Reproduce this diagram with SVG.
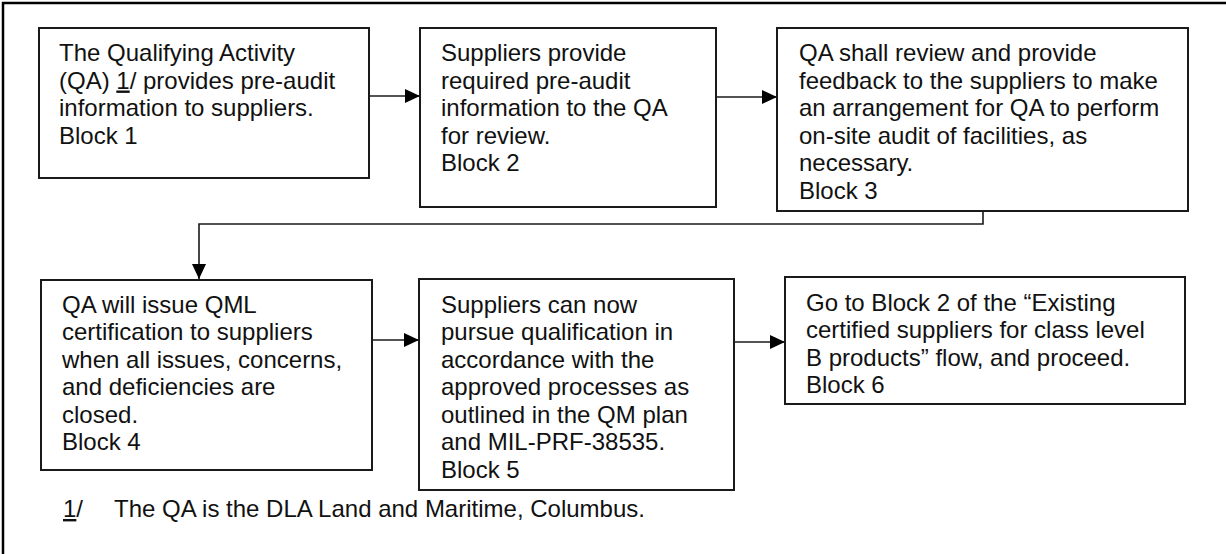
<svg xmlns="http://www.w3.org/2000/svg" width="1226" height="554" viewBox="0 0 1226 554">
  <style>
    .frame { fill: none; stroke: #000; stroke-width: 2.5; }
    .box { fill: #fff; stroke: #1a1a1a; stroke-width: 2; }
    .lbl { font-family: "Liberation Sans", Arial, sans-serif; font-size: 24px; fill: #111; }
    .conn { fill: none; stroke: #1a1a1a; stroke-width: 1.6; }
    .ul { text-decoration: underline; }
  </style>
  <defs>
    <marker id="arrow" markerUnits="userSpaceOnUse" markerWidth="16" markerHeight="16" viewBox="0 0 16 16" refX="15" refY="8" orient="auto">
      <path d="M0,1 L15,8 L0,15 Z" fill="#000"/>
    </marker>
  </defs>

  <!-- page frame (only top and left edges fall inside the sheet) -->
  <rect class="frame" x="3" y="3" width="1240" height="570"/>

  <!-- connectors -->
  <g id="connectors">
    <line class="conn" x1="369" y1="96" x2="420" y2="96" marker-end="url(#arrow)"/>
    <line class="conn" x1="716" y1="97" x2="777" y2="97" marker-end="url(#arrow)"/>
    <polyline class="conn" points="983,211 983,224 199,224 199,279" marker-end="url(#arrow)"/>
    <line class="conn" x1="372" y1="340" x2="419" y2="340" marker-end="url(#arrow)"/>
    <line class="conn" x1="734" y1="342" x2="785" y2="342" marker-end="url(#arrow)"/>
  </g>

  <g id="block1">
    <rect class="box" x="39" y="28" width="330" height="150"/>
    <text class="lbl">
      <tspan x="59" y="61">The Qualifying Activity</tspan>
      <tspan x="59" y="88.5">(QA) <tspan class="ul">1</tspan>/ provides pre-audit</tspan>
      <tspan x="59" y="116">information to suppliers.</tspan>
      <tspan x="59" y="143.5">Block 1</tspan>
    </text>
  </g>

  <g id="block2">
    <rect class="box" x="420" y="28" width="296" height="179"/>
    <text class="lbl">
      <tspan x="441" y="61">Suppliers provide</tspan>
      <tspan x="441" y="88.5">required pre-audit</tspan>
      <tspan x="441" y="116">information to the QA</tspan>
      <tspan x="441" y="143.5">for review.</tspan>
      <tspan x="441" y="171">Block 2</tspan>
    </text>
  </g>

  <g id="block3">
    <rect class="box" x="777" y="28" width="411" height="183"/>
    <text class="lbl">
      <tspan x="799" y="61">QA shall review and provide</tspan>
      <tspan x="799" y="88.5">feedback to the suppliers to make</tspan>
      <tspan x="799" y="116">an arrangement for QA to perform</tspan>
      <tspan x="799" y="143.5">on-site audit of facilities, as</tspan>
      <tspan x="799" y="171">necessary.</tspan>
      <tspan x="799" y="198.5">Block 3</tspan>
    </text>
  </g>

  <g id="block4">
    <rect class="box" x="41" y="280" width="331" height="190"/>
    <text class="lbl">
      <tspan x="62" y="312.5">QA will issue QML</tspan>
      <tspan x="62" y="340">certification to suppliers</tspan>
      <tspan x="62" y="367.5">when all issues, concerns,</tspan>
      <tspan x="62" y="395">and deficiencies are</tspan>
      <tspan x="62" y="422.5">closed.</tspan>
      <tspan x="62" y="450">Block 4</tspan>
    </text>
  </g>

  <g id="block5">
    <rect class="box" x="419" y="279" width="315" height="211"/>
    <text class="lbl">
      <tspan x="441" y="312.5">Suppliers can now</tspan>
      <tspan x="441" y="340">pursue qualification in</tspan>
      <tspan x="441" y="367.5">accordance with the</tspan>
      <tspan x="441" y="395">approved processes as</tspan>
      <tspan x="441" y="422.5">outlined in the QM plan</tspan>
      <tspan x="441" y="450">and MIL-PRF-38535.</tspan>
      <tspan x="441" y="477.5">Block 5</tspan>
    </text>
  </g>

  <g id="block6">
    <rect class="box" x="785" y="277" width="400" height="127"/>
    <text class="lbl">
      <tspan x="806" y="310.5">Go to Block 2 of the “Existing</tspan>
      <tspan x="806" y="338">certified suppliers for class level</tspan>
      <tspan x="806" y="365.5">B products” flow, and proceed.</tspan>
      <tspan x="806" y="393">Block 6</tspan>
    </text>
  </g>

  <!-- footnote -->
  <g id="footnote">
    <text class="lbl" x="63" y="517"><tspan class="ul">1</tspan>/</text>
    <text class="lbl" x="114" y="517">The QA is the DLA Land and Maritime, Columbus.</text>
  </g>
</svg>
